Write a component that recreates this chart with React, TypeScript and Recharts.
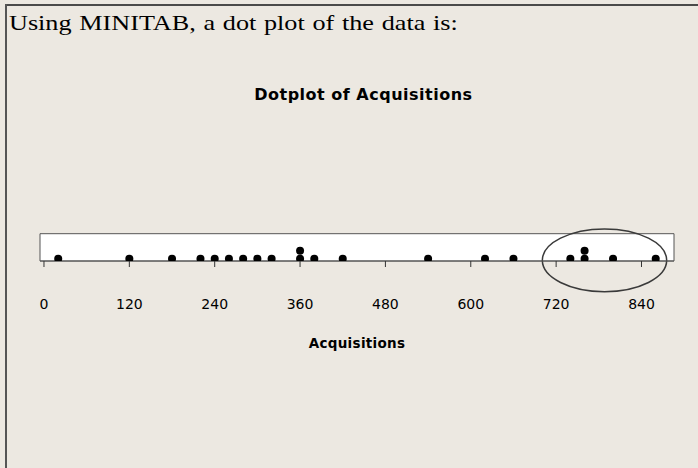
import React from 'react';
import {
  ScatterChart,
  Scatter,
  XAxis,
  YAxis,
  CartesianGrid,
  ReferenceArea,
} from 'recharts';

// Data
const acquisitions = [
  20, 120, 180, 220, 240, 260, 280, 300, 320, 360, 360, 380, 420, 540, 620, 660,
  740, 760, 760, 800, 860,
];
const xTicks = [0, 120, 240, 360, 480, 600, 720, 840];
const xDomain = [-5.6, 885.7];
const yDomain = [0.7125, 4.125];
// Hand-drawn highlight ellipse (in data units)
const ellipseX = [700.6, 875.4];
const ellipseY = [-3.125, 4.7125];

const headerText = 'Using MINITAB, a dot plot of the data is:';
const chartTitle = 'Dotplot of Acquisitions';
const axisTitle = 'Acquisitions';

const points = acquisitions.map((v, i) => ({
  x: v,
  y: acquisitions.slice(0, i).filter((u) => u === v).length + 1,
}));

const Dot = (props: any) => {
  const { cx, cy } = props;
  if (cx == null || cy == null) return null;
  return <circle cx={cx} cy={cy} r={4} fill="#000" />;
};

const EllipseShape = (props: any) => {
  const { x, y, width, height } = props;
  if (x == null) return null;
  return (
    <ellipse
      cx={x + width / 2}
      cy={y + height / 2}
      rx={Math.abs(width) / 2}
      ry={Math.abs(height) / 2}
      fill="none"
      stroke="#3a3a3a"
      strokeWidth={1.5}
    />
  );
};

export default function App() {
  return (
    <div
      style={{
        position: 'fixed',
        left: 0,
        top: 0,
        width: 698,
        height: 468,
        background: '#ece8e1',
        overflow: 'hidden',
      }}
    >
      <div
        style={{
          position: 'absolute',
          left: 5,
          top: 4,
          width: 693,
          height: 2,
          background: '#4a4a4a',
        }}
      />
      <div
        style={{
          position: 'absolute',
          left: 5,
          top: 4,
          width: 2,
          height: 464,
          background: '#555',
        }}
      />
      <div
        style={{
          position: 'absolute',
          left: 9,
          top: 12.3,
          fontFamily: '"Liberation Serif", "Times New Roman", serif',
          fontSize: 22,
          lineHeight: '22px',
          wordSpacing: 1,
          color: '#000',
          whiteSpace: 'nowrap',
          transform: 'scaleX(1.19)',
          transformOrigin: '0 0',
        }}
      >
        {headerText}
      </div>
      <div
        style={{
          position: 'absolute',
          left: 163.4,
          width: 400,
          top: 86.5,
          textAlign: 'center',
          fontFamily: '"DejaVu Sans", Verdana, sans-serif',
          fontWeight: 'bold',
          fontSize: 16,
          lineHeight: '16px',
          letterSpacing: 0.5,
          color: '#000',
          whiteSpace: 'nowrap',
        }}
      >
        {chartTitle}
      </div>
      <div style={{ position: 'absolute', left: 0, top: 0 }}>
        <ScatterChart
          width={698}
          height={468}
          margin={{ top: 233.7, left: 40, right: 24, bottom: 117 }}
        >
          <CartesianGrid
            horizontal={false}
            vertical={false}
            fill="#ffffff"
            fillOpacity={1}
          />
          <XAxis
            type="number"
            dataKey="x"
            domain={xDomain}
            ticks={xTicks}
            allowDataOverflow
            height={90}
            tickSize={6}
            tickMargin={32.4}
            axisLine={{ stroke: '#555' }}
            tickLine={{ stroke: '#333' }}
            tick={{
              fill: '#000',
              fontSize: 14,
              fontFamily: '"DejaVu Sans", Verdana, sans-serif',
            }}
            label={{
              value: axisTitle,
              position: 'insideBottom',
              offset: 3,
              fill: '#000',
              fontSize: 13.5,
              fontWeight: 'bold',
              letterSpacing: 0.3,
              fontFamily: '"DejaVu Sans", Verdana, sans-serif',
            }}
          />
          <YAxis type="number" dataKey="y" domain={yDomain} hide allowDataOverflow />
          <ReferenceArea
            x1={xDomain[0]}
            x2={xDomain[1]}
            y1={yDomain[0]}
            y2={yDomain[1]}
            fill="none"
            fillOpacity={0}
            stroke="#555"
            strokeWidth={1}
            ifOverflow="visible"
          />
          <Scatter data={points} shape={Dot} isAnimationActive={false} />
          <ReferenceArea
            x1={ellipseX[0]}
            x2={ellipseX[1]}
            y1={ellipseY[0]}
            y2={ellipseY[1]}
            ifOverflow="visible"
            shape={EllipseShape}
          />
        </ScatterChart>
      </div>
    </div>
  );
}
